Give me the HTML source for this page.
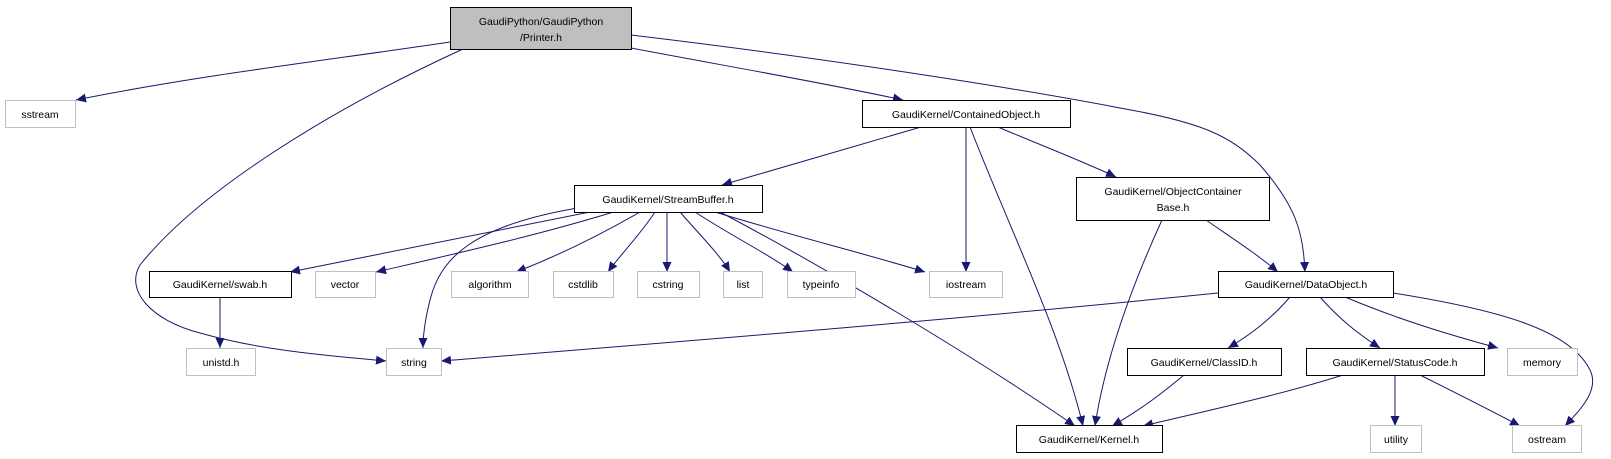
<!DOCTYPE html>
<html><head><meta charset="utf-8"><style>
html,body{margin:0;padding:0;background:#fff;}
svg{display:block}
text{font-family:"Liberation Sans",Arial,sans-serif;font-size:10.5px;fill:#000;text-anchor:middle}
</style></head><body>
<svg width="1611" height="459" viewBox="0 0 1611 459" xmlns="http://www.w3.org/2000/svg">
<defs>
<marker id="a" markerUnits="userSpaceOnUse" markerWidth="11" markerHeight="9" refX="10" refY="4.5" orient="auto">
<path d="M0,0 L10,4.5 L0,9 z" fill="#191970"/></marker>
</defs>
<g fill="none" stroke="#191970" stroke-width="1" marker-end="url(#a)">
<path d="M450,42 C330,60 200,75 76,100"/>
<path d="M463,49 C330,110 200,190 140,265 C125,290 150,320 200,333 C260,350 320,355 386,361"/>
<path d="M631,48 C720,65 820,82 903,100"/>
<path d="M631,35 C800,55 1000,85 1120,108 C1200,122 1230,135 1260,165 C1295,205 1303,230 1305,272"/>
<path d="M921,127 C860,145 790,165 722,185"/>
<path d="M966,127 L966,272"/>
<path d="M970,127 C1010,230 1060,330 1083,426"/>
<path d="M998,127 C1040,145 1080,160 1116,177"/>
<path d="M1162,220 C1130,290 1105,360 1095,426"/>
<path d="M1206,220 C1235,240 1258,255 1278,272"/>
<path d="M600,210 C500,230 400,250 290,272"/>
<path d="M620,210 C540,235 450,255 376,272"/>
<path d="M584,207 C470,225 440,260 430,300 C425,320 423,335 423,348"/>
<path d="M640,212 C600,235 560,255 516,272"/>
<path d="M655,212 C640,235 620,255 608,272"/>
<path d="M667,212 L667,272"/>
<path d="M680,212 C700,235 720,255 730,272"/>
<path d="M695,212 C730,235 770,255 793,272"/>
<path d="M715,212 C790,235 870,255 925,272"/>
<path d="M720,212 C830,270 980,360 1075,426"/>
<path d="M220,297 L220,348"/>
<path d="M1218,293 C950,320 700,340 441,361"/>
<path d="M1290,297 C1270,320 1250,335 1228,348"/>
<path d="M1320,297 C1340,320 1360,335 1380,348"/>
<path d="M1345,297 C1400,320 1450,335 1498,348"/>
<path d="M1393,293 C1500,310 1570,330 1590,370 C1600,390 1580,410 1565,426"/>
<path d="M1184,375 C1160,395 1140,410 1112,426"/>
<path d="M1343,375 C1280,395 1210,410 1143,426"/>
<path d="M1395,375 L1395,426"/>
<path d="M1420,375 C1460,395 1490,410 1520,426"/>
</g>
<g stroke-width="1">
<rect x="450.5" y="7.5" width="181" height="42" fill="#bfbfbf" stroke="#000"/>
<text x="541" y="25">GaudiPython/GaudiPython</text>
<text x="541" y="41">/Printer.h</text>
<g fill="#fff" stroke="#bfbfbf">
<rect x="5.5" y="100.5" width="70" height="27"/>
<rect x="315.5" y="271.5" width="60" height="26"/>
<rect x="451.5" y="271.5" width="77" height="26"/>
<rect x="553.5" y="271.5" width="60" height="26"/>
<rect x="637.5" y="271.5" width="62" height="26"/>
<rect x="723.5" y="271.5" width="39" height="26"/>
<rect x="787.5" y="271.5" width="68" height="26"/>
<rect x="929.5" y="271.5" width="73" height="26"/>
<rect x="186.5" y="348.5" width="69" height="27"/>
<rect x="386.5" y="348.5" width="55" height="27"/>
<rect x="1507.5" y="348.5" width="70" height="27"/>
<rect x="1370.5" y="425.5" width="51" height="27"/>
<rect x="1512.5" y="425.5" width="69" height="27"/>
</g>
<g fill="#fff" stroke="#000">
<rect x="862.5" y="100.5" width="208" height="27"/>
<rect x="574.5" y="185.5" width="188" height="27"/>
<rect x="1076.5" y="177.5" width="193" height="43"/>
<rect x="149.5" y="271.5" width="142" height="26"/>
<rect x="1218.5" y="271.5" width="175" height="26"/>
<rect x="1127.5" y="348.5" width="154" height="27"/>
<rect x="1306.5" y="348.5" width="178" height="27"/>
<rect x="1016.5" y="425.5" width="146" height="27"/>
</g>
</g>
<text x="40" y="118">sstream</text>
<text x="966" y="118">GaudiKernel/ContainedObject.h</text>
<text x="668" y="203">GaudiKernel/StreamBuffer.h</text>
<text x="1173" y="195">GaudiKernel/ObjectContainer</text>
<text x="1173" y="211">Base.h</text>
<text x="220" y="288">GaudiKernel/swab.h</text>
<text x="345" y="288">vector</text>
<text x="490" y="288">algorithm</text>
<text x="583" y="288">cstdlib</text>
<text x="668" y="288">cstring</text>
<text x="743" y="288">list</text>
<text x="821" y="288">typeinfo</text>
<text x="966" y="288">iostream</text>
<text x="1306" y="288">GaudiKernel/DataObject.h</text>
<text x="221" y="366">unistd.h</text>
<text x="414" y="366">string</text>
<text x="1204" y="366">GaudiKernel/ClassID.h</text>
<text x="1395" y="366">GaudiKernel/StatusCode.h</text>
<text x="1542" y="366">memory</text>
<text x="1089" y="443">GaudiKernel/Kernel.h</text>
<text x="1396" y="443">utility</text>
<text x="1547" y="443">ostream</text>
</svg>
</body></html>
